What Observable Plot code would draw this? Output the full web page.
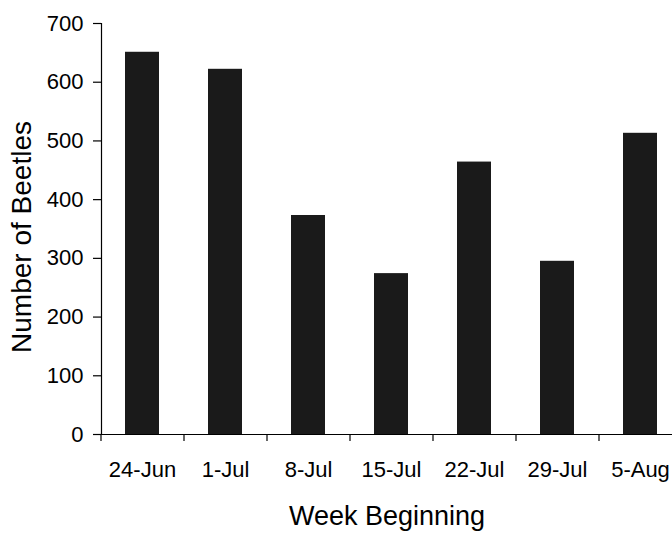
<!DOCTYPE html>
<html>
<head>
<meta charset="utf-8">
<script src="https://cdn.jsdelivr.net/npm/d3@7"></script>
<script src="https://cdn.jsdelivr.net/npm/@observablehq/plot@0.6"></script>
<style>
  html, body { margin: 0; padding: 0; background: #fff; }
  #chart svg { display: block; }
</style>
</head>
<body>
<div id="chart"></div>
<script>
const weeks = ["24-Jun", "1-Jul", "8-Jul", "15-Jul", "22-Jul", "29-Jul", "5-Aug"];
const beetles = [651, 622, 373, 274, 464, 295, 513];
const yTicks = [0, 100, 200, 300, 400, 500, 600, 700];

const data = weeks.map((w, i) => ({week: w, count: beetles[i]}));
const font = "'Liberation Sans', Arial, Helvetica, sans-serif";

const chart = Plot.plot({
  width: 672,
  height: 533,
  marginTop: 23,
  marginBottom: 99,
  marginLeft: 101,
  marginRight: 0,
  style: {fontFamily: font, color: "#000", background: "#fff"},
  x: {type: "band", domain: weeks, range: [101, 682], paddingInner: 0.59, paddingOuter: 0.295},
  y: {domain: [0, 700]},
  marks: [
    Plot.barY(data, {x: "week", y: "count", fill: "#1a1a1a"}),
    Plot.frame({anchor: "left", stroke: "#000", strokeWidth: 1.2}),
    Plot.ruleY([0], {stroke: "#000", strokeWidth: 1.2}),
    Plot.axisY({ticks: yTicks, tickSize: 8, tickPadding: 10, fontSize: 22, label: null, strokeWidth: 1.2}),
    Plot.axisX({tickSize: 7, dx: -41.5, text: null, label: null, strokeWidth: 1.2}),
    Plot.axisX({tickSize: 0, tickPadding: 27, fontSize: 22, label: null}),
    Plot.text(["Week Beginning"], {frameAnchor: "bottom", dy: 90, fontSize: 27, fill: "#000"}),
    Plot.text(["Number of Beetles"], {frameAnchor: "left", textAnchor: "middle", dx: -79, dy: 8, rotate: -90, fontSize: 28, fill: "#000"})
  ]
});
document.getElementById("chart").appendChild(chart);
</script>
</body>
</html>
